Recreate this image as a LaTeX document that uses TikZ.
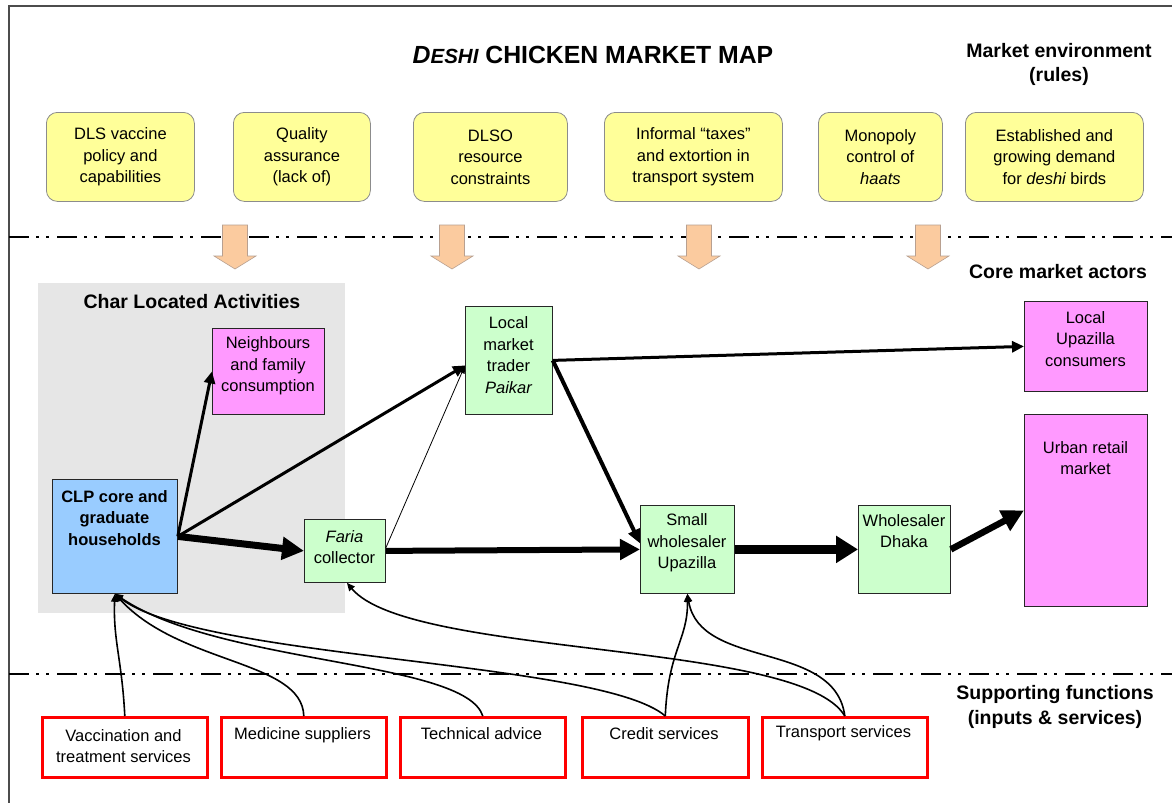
\documentclass[tikz,border=0pt]{standalone}
\usepackage{fontspec}
\setmainfont{Liberation Sans}
\usetikzlibrary{arrows.meta}
\definecolor{ylw}{HTML}{FFFF99}
\definecolor{mag}{HTML}{FF99FF}
\definecolor{lblue}{HTML}{99CCFF}
\definecolor{lgreen}{HTML}{CCFFCC}
\definecolor{bgray}{HTML}{E6E6E6}
\definecolor{peach}{HTML}{FBCB9F}
\definecolor{peachline}{HTML}{B8A090}
\begin{document}
\begin{tikzpicture}[x=1pt,y=-1pt,
  box/.style={draw=black!85, line width=0.8pt, anchor=north west, inner sep=0pt},
  ybox/.style={box, draw=black!45, fill=ylw, rounded corners=11pt, font=\fontsize{16.5}{21.5}\selectfont, align=center},
  rbox/.style={box, draw=red, line width=2.6pt, fill=white},
  txt/.style={font=\fontsize{16.5}{21.5}\selectfont, align=center, inner sep=0pt},
  btxt/.style={font=\bfseries\fontsize{16.5}{21.5}\selectfont, align=center, inner sep=0pt},
  lbl/.style={font=\bfseries\fontsize{19.5}{24.5}\selectfont, align=center, inner sep=0pt},
  flow/.style={-{Triangle[length=12pt,width=11pt]}, line width=3pt},
  supply/.style={-{Triangle[length=8pt,width=7pt]}, line width=1.6pt},
  divider/.style={line width=2.2pt, dash pattern=on 20pt off 7pt on 3pt off 7pt on 3pt off 8pt},
]
\useasboundingbox (0,0) rectangle (1172,803);
\fill[white] (0,0) rectangle (1172,803);
% frame
\draw[black!70, line width=1.2pt] (1172,6) -- (9,6) -- (9,803);
% grey area
\fill[bgray] (38,283) rectangle (345,613);
% dividers
\draw[divider] (9,237) -- (1172,237);
\draw[divider] (9,674) -- (1172,674);
% block arrows
\foreach \c in {235,452,699,928}
  \filldraw[fill=peach, draw=peachline, line width=0.6pt]
    (\c-12.5,225) -- (\c+12.5,225) -- (\c+12.5,256) -- (\c+21,256) -- (\c,269)
    -- (\c-21,256) -- (\c-12.5,256) -- cycle;
% title and labels
\node[font=\bfseries\fontsize{24.8}{29}\selectfont, inner sep=0pt] (title) at (593,55)
  {{\itshape D{\fontsize{20.5}{24}\selectfont ESHI}} CHICKEN MARKET MAP};
\node[lbl] (env) at (1059,64.5) {Market environment\\(rules)};
\node[lbl] (core) at (1058,272) {Core market actors};
\node[lbl] (supp) at (1055,707) {Supporting functions\\(inputs \& services)};
\node[lbl] (char) at (192,302) {Char Located Activities};
% market environment boxes
\node[ybox, minimum width=148pt, minimum height=89pt] (y1) at (46,112) {DLS vaccine\\policy and\\capabilities};
\node[ybox, minimum width=137pt, minimum height=89pt] (y2) at (233,112) {Quality\\assurance\\(lack of)};
\node[ybox, minimum width=154pt, minimum height=89pt] (y3) at (413,112) {DLSO\\resource\\constraints};
\node[ybox, minimum width=178pt, minimum height=89pt] (y4) at (604,112) {Informal “taxes”\\and extortion in\\transport system};
\node[ybox, minimum width=124pt, minimum height=89pt] (y5) at (818,112) {Monopoly\\control of\\{\itshape haats}};
\node[ybox, minimum width=178pt, minimum height=89pt] (y6) at (965,112) {Established and\\growing demand\\for {\itshape deshi} birds};
% core actors
\node[box, fill=mag, minimum width=112pt, minimum height=86pt] (neigh) at (212,328) {};
\node[txt] (neigh-t) at (268,366) {Neighbours\\and family\\consumption};
\node[box, fill=lblue, minimum width=125pt, minimum height=114pt] (clp) at (52,479) {};
\node[btxt] (clp-t) at (114.5,518) {CLP core and\\graduate\\households};
\node[box, fill=lgreen, minimum width=81pt, minimum height=63pt] (faria) at (304,519) {};
\node[txt] (faria-t) at (344.5,547) {{\itshape Faria}\\collector};
\node[box, fill=lgreen, minimum width=87pt, minimum height=108pt] (paikar) at (465,306) {};
\node[txt] (paikar-t) at (508.5,355) {Local\\market\\trader\\{\itshape Paikar}};
\node[box, fill=lgreen, minimum width=94pt, minimum height=88pt] (sw) at (640,505) {};
\node[txt] (sw-t) at (687,543) {Small\\wholesaler\\Upazilla};
\node[box, fill=lgreen, minimum width=92pt, minimum height=88pt] (dhaka) at (858,505) {};
\node[txt] (dhaka-t) at (904,531) {Wholesaler\\Dhaka};
\node[box, fill=mag, minimum width=123pt, minimum height=90pt] (cons) at (1024,301) {};
\node[txt] (cons-t) at (1085.5,339) {Local\\Upazilla\\consumers};
\node[box, fill=mag, minimum width=123pt, minimum height=192pt] (urban) at (1024,414) {};
\node[txt] (urban-t) at (1085.5,458) {Urban retail\\market};
% supporting functions
\node[rbox, minimum width=165pt, minimum height=60pt] (vacc) at (41,716) {};
\node[txt] (vacc-t) at (123.5,746) {Vaccination and\\treatment services};
\node[rbox, minimum width=165pt, minimum height=60pt] (med) at (220,716) {};
\node[txt] (med-t) at (302.5,735) {Medicine suppliers};
\node[rbox, minimum width=165pt, minimum height=60pt] (tech) at (399,716) {};
\node[txt] (tech-t) at (481.5,734) {Technical advice};
\node[rbox, minimum width=166pt, minimum height=60pt] (cred) at (581,716) {};
\node[txt] (cred-t) at (664,734) {Credit services};
\node[rbox, minimum width=165pt, minimum height=60pt] (trans) at (761,716) {};
\node[txt] (trans-t) at (843.5,733) {Transport services};
% market flows
\draw[flow] (clp.east) -- (neigh.west);
\draw[flow] (clp.east) -- ([yshift=-5pt]paikar.west);
\draw[-{Triangle[length=22pt,width=22pt]}, line width=7pt] (clp.east) -- (faria.west);
\draw[-{Triangle[length=8pt,width=6pt]}, line width=0.8pt] ([yshift=3pt]faria.east) -- ([yshift=-5pt]paikar.west);
\draw[-{Triangle[length=20pt,width=20pt]}, line width=6pt] (faria.east) -- (sw.west);
\draw[flow] (paikar.east) -- (cons.west);
\draw[-{Triangle[length=14pt,width=12pt]}, line width=4pt] (paikar.east) -- ([yshift=6pt]sw.west);
\draw[-{Triangle[length=22pt,width=26pt]}, line width=9pt] (sw.east) -- (dhaka.west);
\draw[-{Triangle[length=22pt,width=22pt]}, line width=6.5pt] (dhaka.east) -- (urban.west);
% supporting links
\draw[supply] (vacc.north) .. controls (122,660) and (113,640) .. (clp.south);
\draw[supply] (med.north) .. controls (302,660) and (180,665) .. (clp.south);
\draw[supply] (tech.north) .. controls (465,660) and (220,665) .. (clp.south);
\draw[supply] (cred.north) .. controls (600,660) and (200,660) .. (clp.south);
\draw[supply] (cred.north) .. controls (668,650) and (688,640) .. (sw.south);
\draw[supply] (trans.north) .. controls (835,640) and (700,670) .. (sw.south);
\draw[supply] (trans.north) .. controls (800,640) and (410,658) .. ([xshift=2pt]faria.south);
\end{tikzpicture}
\end{document}
